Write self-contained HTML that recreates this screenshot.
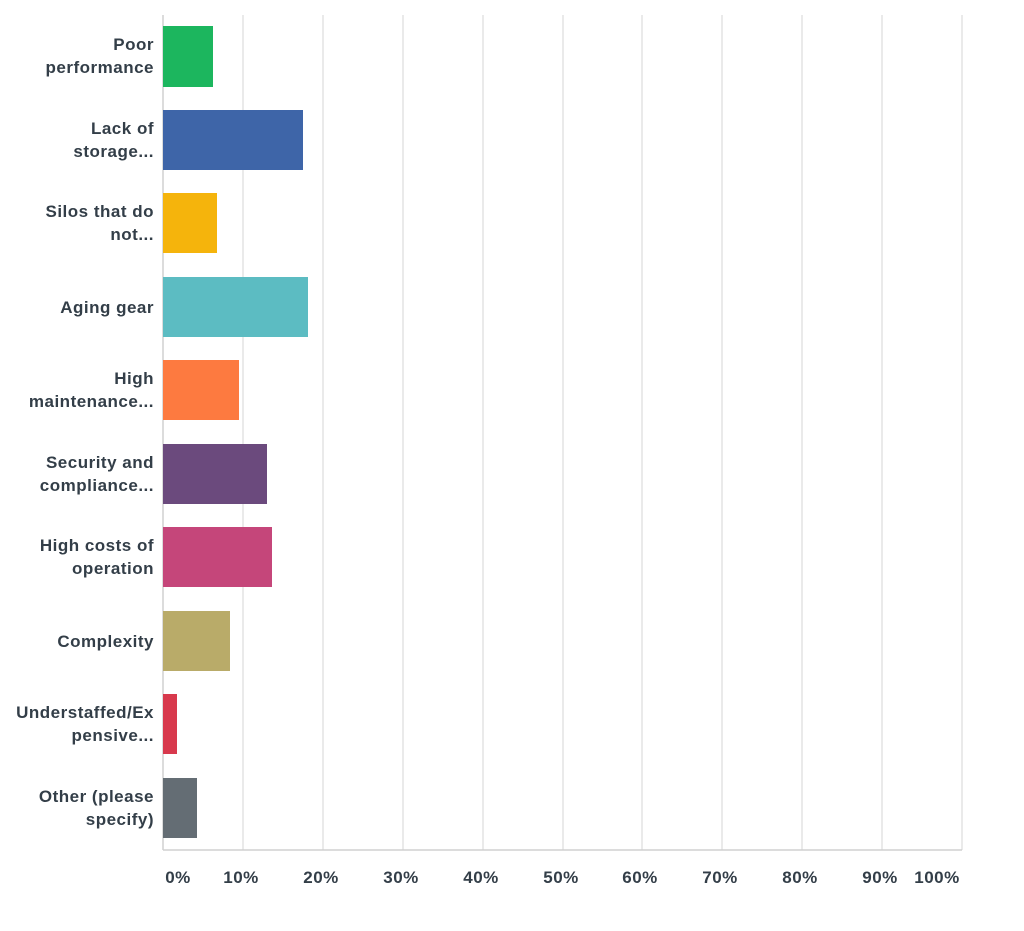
<!DOCTYPE html><html><head><style>body{margin:0;background:#fff}</style></head><body>
<svg width="1024" height="926" xmlns="http://www.w3.org/2000/svg" font-family="Liberation Sans, sans-serif" font-weight="bold" font-size="17" letter-spacing="0.5" fill="#333e48">
<g stroke="#e3e3e3" stroke-width="1.5">
<line x1="243" y1="15" x2="243" y2="850"/><line x1="323" y1="15" x2="323" y2="850"/><line x1="403" y1="15" x2="403" y2="850"/><line x1="483" y1="15" x2="483" y2="850"/><line x1="563" y1="15" x2="563" y2="850"/><line x1="642" y1="15" x2="642" y2="850"/><line x1="722" y1="15" x2="722" y2="850"/><line x1="802" y1="15" x2="802" y2="850"/><line x1="882" y1="15" x2="882" y2="850"/><line x1="962" y1="15" x2="962" y2="850"/>
</g>
<line x1="163" y1="15" x2="163" y2="850" stroke="#d0d0d0" stroke-width="1.5"/>
<line x1="163" y1="850" x2="962" y2="850" stroke="#d0d0d0" stroke-width="1.5"/>
<rect x="163" y="26" width="50" height="61" fill="#1cb65e"/>
<rect x="163" y="110" width="140" height="60" fill="#3e65a8"/>
<rect x="163" y="193" width="54" height="60" fill="#f5b40c"/>
<rect x="163" y="277" width="145" height="60" fill="#5cbcc2"/>
<rect x="163" y="360" width="76" height="60" fill="#fd7a40"/>
<rect x="163" y="444" width="104" height="60" fill="#6b4a7d"/>
<rect x="163" y="527" width="109" height="60" fill="#c5467a"/>
<rect x="163" y="611" width="67" height="60" fill="#b9ab69"/>
<rect x="163" y="694" width="14" height="60" fill="#d8394d"/>
<rect x="163" y="778" width="34" height="60" fill="#646d74"/>
<g text-anchor="end">
<text x="154" y="50">Poor</text><text x="154" y="73">performance</text>
<text x="154" y="134">Lack of</text><text x="154" y="157">storage...</text>
<text x="154" y="217">Silos that do</text><text x="154" y="240">not...</text>
<text x="154" y="313">Aging gear</text>
<text x="154" y="384">High</text><text x="154" y="407">maintenance...</text>
<text x="154" y="468">Security and</text><text x="154" y="491">compliance...</text>
<text x="154" y="551">High costs of</text><text x="154" y="574">operation</text>
<text x="154" y="647">Complexity</text>
<text x="154" y="718">Understaffed/Ex</text><text x="154" y="741">pensive...</text>
<text x="154" y="802">Other (please</text><text x="154" y="825">specify)</text>
</g>
<g text-anchor="middle">
<text x="178" y="883">0%</text><text x="241" y="883">10%</text><text x="321" y="883">20%</text><text x="401" y="883">30%</text><text x="481" y="883">40%</text><text x="561" y="883">50%</text><text x="640" y="883">60%</text><text x="720" y="883">70%</text><text x="800" y="883">80%</text><text x="880" y="883">90%</text><text x="937" y="883">100%</text>
</g>
</svg></body></html>
